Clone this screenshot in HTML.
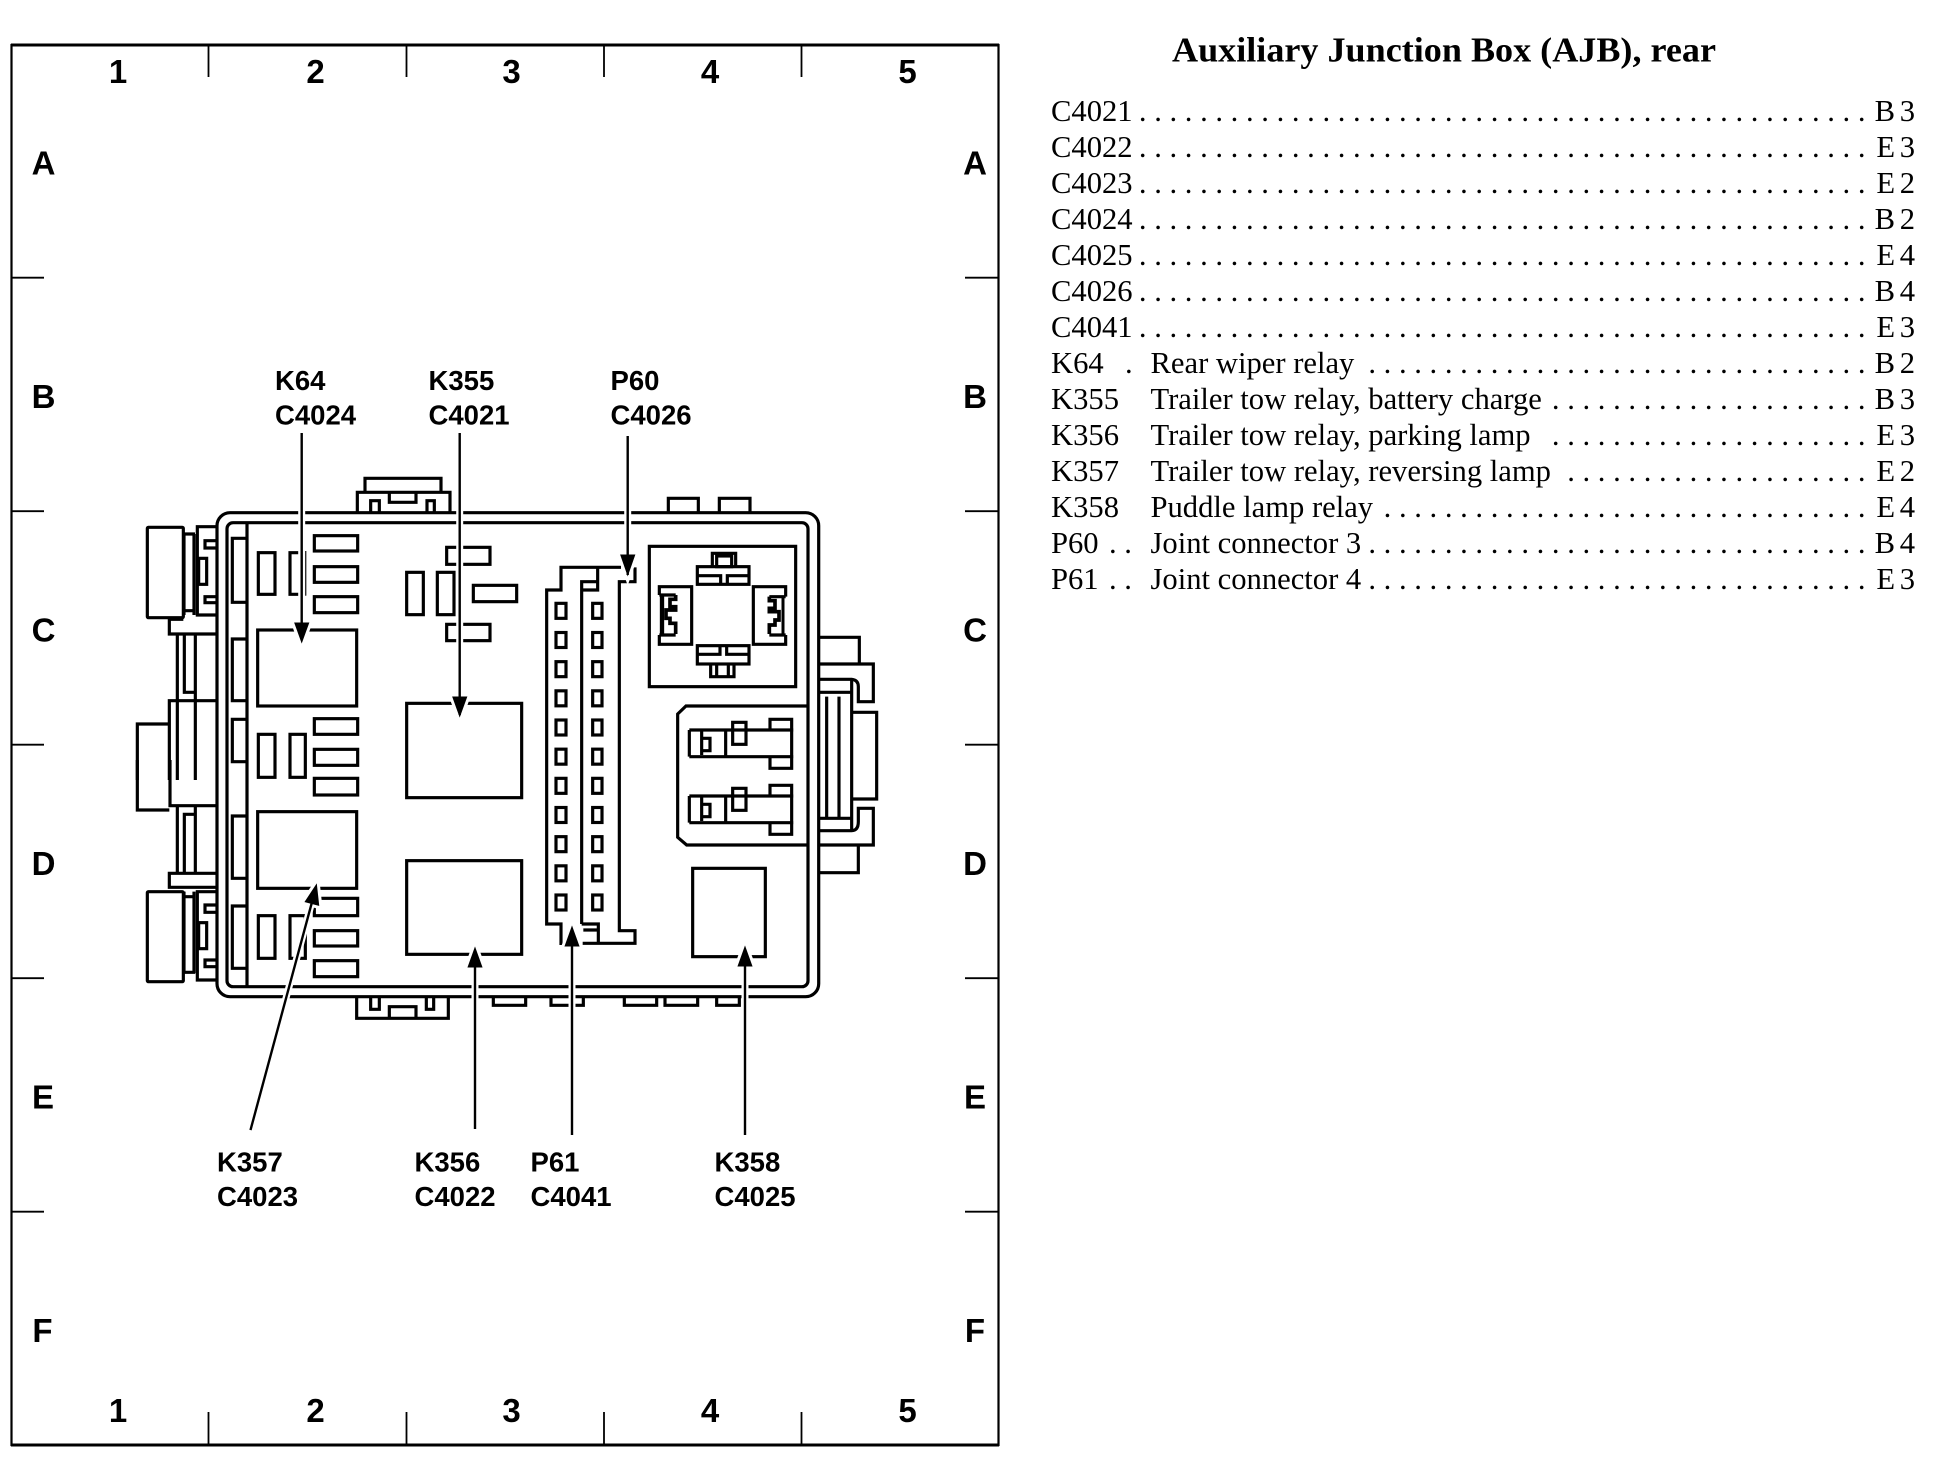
<!DOCTYPE html>
<html>
<head>
<meta charset="utf-8">
<title>Auxiliary Junction Box (AJB), rear</title>
<style>
html,body{margin:0;padding:0;background:#fff;}
svg{display:block;}
.g{font-family:"Liberation Sans",sans-serif;font-weight:bold;font-size:33px;fill:#000;text-anchor:middle;}
.c{font-family:"Liberation Sans",sans-serif;font-weight:bold;font-size:27.5px;fill:#000;}
.t{font-family:"Liberation Serif",serif;font-weight:bold;font-size:35px;fill:#000;}
.l{font-family:"Liberation Serif",serif;font-size:30.6px;fill:#000;white-space:pre;}
.r{text-anchor:end;}
.v{text-anchor:end;word-spacing:-3px;}
</style>
</head>
<body>
<svg width="1952" height="1472" viewBox="0 0 1952 1472" xmlns="http://www.w3.org/2000/svg">
<rect width="1952" height="1472" fill="#fff"/>

<!-- frame -->
<g fill="none" stroke="#000" stroke-width="2.2">
<rect x="11.5" y="45" width="987" height="1400"/>
</g>
<g fill="none" stroke="#000" stroke-width="3">
<path d="M11 45H999M11 1445H999"/>
</g>
<g fill="none" stroke="#000" stroke-width="1.8">
<path d="M208.5 45V77M406.5 45V77M604 45V77M801.5 45V77"/>
<path d="M208.5 1412V1445M406.5 1412V1445M604 1412V1445M801.5 1412V1445"/>
<path d="M11 277.7H44M11 511.2H44M11 744.7H44M11 978.2H44M11 1211.7H44"/>
<path d="M965 277.7H998M965 511.2H998M965 744.7H998M965 978.2H998M965 1211.7H998"/>
</g>
<g class="g">
<text x="118" y="83">1</text><text x="315.5" y="83">2</text><text x="511.5" y="83">3</text><text x="710" y="83">4</text><text x="907.5" y="83">5</text>
<text x="118" y="1422">1</text><text x="315.5" y="1422">2</text><text x="511.5" y="1422">3</text><text x="710" y="1422">4</text><text x="907.5" y="1422">5</text>
<text x="43.5" y="174.3">A</text><text x="43.5" y="407.8">B</text><text x="43.5" y="641.3">C</text><text x="43.5" y="874.8">D</text><text x="43" y="1108.3">E</text><text x="42.5" y="1341.8">F</text>
<text x="975" y="174.3">A</text><text x="975" y="407.8">B</text><text x="975" y="641.3">C</text><text x="975" y="874.8">D</text><text x="975" y="1108.3">E</text><text x="975" y="1341.8">F</text>
</g>

<!-- housing -->
<g fill="none" stroke="#000" stroke-width="3.2">
<rect x="217" y="512.7" width="601.7" height="484" rx="13"/>
<rect x="227" y="522.7" width="581" height="464" rx="6"/>
<path d="M247 522V986"/>
</g>

<!-- upper-left (zoom coords) -->
<g transform="translate(120 460) scale(.33333)" fill="none" stroke="#000" stroke-width="9.5">
<path d="M735 95V55H963V95M712 155V97H990V155M808 97V127H888V97M752 155V122H778V155M921 155V122H943V155"/>
<rect x="82" y="202" width="108" height="271" rx="3"/>
<path d="M190 222H225M192 222V465M222 222V465M288 200H232V465H288M288 242H255V264H288M288 410H255V428H288"/>
<rect x="236" y="295" width="24" height="78"/>
<path d="M192 452H225M190 478H148V522H288M172 525V960M226 525V960M193 525V697H225M288 722H148V960M148 792H52V960"/>
<path d="M381 235H337V427H381M381 537H337V722H381M381 778H337V905H381"/>
<rect x="583" y="227" width="130" height="46"/><rect x="583" y="320" width="130" height="47"/><rect x="583" y="410" width="130" height="48"/>
<rect x="415" y="278" width="50" height="125"/>
<path d="M556 278H510V403H556"/>
<path d="M557 273V407" stroke-width="4"/>
<rect x="413" y="510" width="297" height="228"/>
<rect x="583" y="776" width="130" height="47"/><rect x="583" y="868" width="130" height="48"/>
<rect x="415" y="823" width="50" height="129"/><rect x="510" y="823" width="46" height="129"/>
<rect x="980" y="262" width="130" height="51"/><rect x="860" y="337" width="50" height="127"/><rect x="952" y="337" width="50" height="127"/><rect x="1060" y="376" width="130" height="49"/><rect x="980" y="493" width="130" height="49"/>
<rect x="860" y="730" width="345" height="283"/>
</g>

<!-- lower-left (zoom coords) -->
<g transform="translate(120 760) scale(.33333)" fill="none" stroke="#000" stroke-width="9.5">
<rect x="583" y="55" width="130" height="50"/>
<rect x="413" y="155" width="297" height="230"/>
<rect x="583" y="415" width="130" height="52"/><rect x="583" y="512" width="130" height="46"/><rect x="583" y="602" width="130" height="48"/>
<rect x="415" y="467" width="50" height="128"/><rect x="510" y="467" width="46" height="128"/>
<path d="M52 0V150H148M150 0V137H288M172 137V337M226 137V337M193 337V163H226M288 340H148V382H288"/>
<rect x="82" y="395" width="108" height="270" rx="3"/>
<path d="M288 395H232V660H288M192 395V640M222 395V640M192 410H222M190 637H225M288 435H255V457H288M288 600H255V620H288"/>
<rect x="236" y="488" width="24" height="78"/>
<path d="M381 168H337V355H381M381 438H337V625H381"/>
<path d="M710 712V775H985V712M752 712V748H778V712M919 712V748H941V712M808 772V740H888V772M1120 712V736H1217V712"/>
<rect x="860" y="302" width="345" height="281"/>
</g>

<!-- right part (zoom coords) -->
<g transform="translate(530 480) scale(.33333)" fill="none" stroke="#000" stroke-width="9.5">
<path d="M415 98V55H505V98M568 98V55H660V98"/>
<rect x="358" y="199" width="439" height="421"/>
<path d="M547 258V220H617V258"/><rect x="560" y="228" width="45" height="32"/>
<rect x="502" y="260" width="155" height="53"/>
<path d="M505 287H572V313M592 313V287H655"/>
<rect x="502" y="497" width="155" height="55"/>
<path d="M505 523H570V497M590 497V523H655M542 552V590H612V552M560 552V590M595 552V590"/>
<path d="M388 345V320H485V493H388V465"/>
<path d="M396 345V465" stroke-width="13"/>
<path d="M388 345H437M388 465H437"/>
<path d="M437 345V358H420V380H437V390H408V415H420V430H437V462" stroke-width="11"/>
<g transform="translate(1155 0) scale(-1 1)">
<path d="M388 350V320H485V493H388V465"/>
<path d="M396 350V465" stroke-width="9"/>
<path d="M388 350H437M388 465H437"/>
<path d="M437 350V362H420V385H437V395H408V420H420V435H437V462" stroke-width="11"/>
</g>
<path d="M870 472H988V552M870 552H1030V665H985V620Q985 600 965 598H870M870 637H965M965 600V900M890 650V900M927 650V900M965 697H1040V900"/>
<path d="M833 678H468L443 702V900"/>
<g>
<path d="M478 750H790M478 830H790M478 750V830M515 755V825M515 775H540V812H515M587 755V830M720 750V718H785V865H720V830"/>
<rect x="608" y="727" width="40" height="66"/>
</g>
<g transform="translate(0 198)">
<path d="M478 750H790M478 830H790M478 750V830M515 755V825M515 775H540V812H515M587 755V830M720 750V718H785V865H720V830"/>
<rect x="608" y="727" width="40" height="66"/>
</g>
<path d="M273 262H93V330H50V1332H93V1395M203 262V330H158M155 1332V305H203M155 1332H205V1392M160 1350H205M158 1390H315V1352H268V305H315V262"/>
<path d="M890 900V1015M927 900V1015M870 1015H965M965 900V1052M870 1052H965Q985 1052 985 1025V985H1030V1095H870M985 1095V1178H870M965 957H1040V900"/>
<path d="M443 900V1072L470 1095H833"/>
<rect x="488" y="1165" width="218" height="265"/>
<g>
<rect x="78" y="370" width="30" height="45"/><rect x="188" y="370" width="28" height="45"/>
<rect x="78" y="457.5" width="30" height="45"/><rect x="188" y="457.5" width="28" height="45"/>
<rect x="78" y="545" width="30" height="45"/><rect x="188" y="545" width="28" height="45"/>
<rect x="78" y="632.5" width="30" height="45"/><rect x="188" y="632.5" width="28" height="45"/>
<rect x="78" y="720" width="30" height="45"/><rect x="188" y="720" width="28" height="45"/>
<rect x="78" y="807.5" width="30" height="45"/><rect x="188" y="807.5" width="28" height="45"/>
<rect x="78" y="895" width="30" height="45"/><rect x="188" y="895" width="28" height="45"/>
<rect x="78" y="982.5" width="30" height="45"/><rect x="188" y="982.5" width="28" height="45"/>
<rect x="78" y="1070" width="30" height="45"/><rect x="188" y="1070" width="28" height="45"/>
<rect x="78" y="1157.5" width="30" height="45"/><rect x="188" y="1157.5" width="28" height="45"/>
<rect x="78" y="1245" width="30" height="45"/><rect x="188" y="1245" width="28" height="45"/>
</g>
</g>
<!-- bottom bumps -->
<g transform="translate(530 760) scale(.33333)" fill="none" stroke="#000" stroke-width="9.5">
<path d="M63 712V736H160V712M283 712V736H380V712M405 712V736H503V712M560 712V736H628V712"/>
</g>

<!-- arrows -->
<g fill="none" stroke="#fff" stroke-width="7">
<path d="M301.7 433V640M459.7 433V715M627.7 436V575"/>
<path d="M250.5 1130L314 894"/>
<path d="M475 950V1129M572 930V1135M745 950V1135"/>
</g>
<g fill="#000" stroke="#fff" stroke-width="3">
<polygon points="292,621 311.5,621 301.7,648"/>
<polygon points="450,695 469.5,695 459.7,722"/>
<polygon points="618,553 637.5,553 627.7,581"/>
<polygon points="317.8,879 321,908 302,903"/>
<polygon points="475,942 484.7,969 465.3,969"/>
<polygon points="572,921 581.7,948 562.3,948"/>
<polygon points="745,941 754.7,968 735.3,968"/>
</g>
<g fill="none" stroke="#000" stroke-width="2.4">
<path d="M301.7 433V640M459.7 433V715M627.7 436V575"/>
<path d="M250.5 1130L312 902"/>
<path d="M475 960V1129M572 940V1135M745 960V1135"/>
</g>

<!-- callouts -->
<g class="c">
<text x="275" y="390">K64</text><text x="275" y="424.5">C4024</text>
<text x="428.5" y="390">K355</text><text x="428.5" y="424.5">C4021</text>
<text x="610.5" y="390">P60</text><text x="610.5" y="424.5">C4026</text>
<text x="217" y="1171.7">K357</text><text x="217" y="1206">C4023</text>
<text x="414.5" y="1171.7">K356</text><text x="414.5" y="1206">C4022</text>
<text x="530.5" y="1171.7">P61</text><text x="530.5" y="1206">C4041</text>
<text x="714.5" y="1171.7">K358</text><text x="714.5" y="1206">C4025</text>
</g>

<!-- right panel -->
<text class="t" x="1172" y="61.7" textLength="544" lengthAdjust="spacingAndGlyphs">Auxiliary Junction Box (AJB), rear</text>
<g class="l">
<text x="1051" y="121">C4021</text><text class="r" x="1865.5" y="121">. . . . . . . . . . . . . . . . . . . . . . . . . . . . . . . . . . . . . . . . . . . . . . . .</text><text class="v" x="1915" y="121">B 3</text>
<text x="1051" y="157">C4022</text><text class="r" x="1865.5" y="157">. . . . . . . . . . . . . . . . . . . . . . . . . . . . . . . . . . . . . . . . . . . . . . . .</text><text class="v" x="1915" y="157">E 3</text>
<text x="1051" y="193">C4023</text><text class="r" x="1865.5" y="193">. . . . . . . . . . . . . . . . . . . . . . . . . . . . . . . . . . . . . . . . . . . . . . . .</text><text class="v" x="1915" y="193">E 2</text>
<text x="1051" y="229">C4024</text><text class="r" x="1865.5" y="229">. . . . . . . . . . . . . . . . . . . . . . . . . . . . . . . . . . . . . . . . . . . . . . . .</text><text class="v" x="1915" y="229">B 2</text>
<text x="1051" y="265">C4025</text><text class="r" x="1865.5" y="265">. . . . . . . . . . . . . . . . . . . . . . . . . . . . . . . . . . . . . . . . . . . . . . . .</text><text class="v" x="1915" y="265">E 4</text>
<text x="1051" y="301">C4026</text><text class="r" x="1865.5" y="301">. . . . . . . . . . . . . . . . . . . . . . . . . . . . . . . . . . . . . . . . . . . . . . . .</text><text class="v" x="1915" y="301">B 4</text>
<text x="1051" y="337">C4041</text><text class="r" x="1865.5" y="337">. . . . . . . . . . . . . . . . . . . . . . . . . . . . . . . . . . . . . . . . . . . . . . . .</text><text class="v" x="1915" y="337">E 3</text>
<text x="1051" y="373">K64</text><text x="1125" y="373">.</text><text x="1150.5" y="373">Rear wiper relay</text><text class="r" x="1865.5" y="373">. . . . . . . . . . . . . . . . . . . . . . . . . . . . . . . . .</text><text class="v" x="1915" y="373">B 2</text>
<text x="1051" y="409">K355</text><text x="1150.5" y="409">Trailer tow relay, battery charge</text><text class="r" x="1865.5" y="409">. . . . . . . . . . . . . . . . . . . . .</text><text class="v" x="1915" y="409">B 3</text>
<text x="1051" y="445">K356</text><text x="1150.5" y="445">Trailer tow relay, parking lamp</text><text class="r" x="1865.5" y="445">. . . . . . . . . . . . . . . . . . . . .</text><text class="v" x="1915" y="445">E 3</text>
<text x="1051" y="481">K357</text><text x="1150.5" y="481">Trailer tow relay, reversing lamp</text><text class="r" x="1865.5" y="481">. . . . . . . . . . . . . . . . . . . .</text><text class="v" x="1915" y="481">E 2</text>
<text x="1051" y="517">K358</text><text x="1150.5" y="517">Puddle lamp relay</text><text class="r" x="1865.5" y="517">. . . . . . . . . . . . . . . . . . . . . . . . . . . . . . . .</text><text class="v" x="1915" y="517">E 4</text>
<text x="1051" y="553">P60</text><text x="1109" y="553">. .</text><text x="1150.5" y="553">Joint connector 3</text><text class="r" x="1865.5" y="553">. . . . . . . . . . . . . . . . . . . . . . . . . . . . . . . . .</text><text class="v" x="1915" y="553">B 4</text>
<text x="1051" y="589">P61</text><text x="1109" y="589">. .</text><text x="1150.5" y="589">Joint connector 4</text><text class="r" x="1865.5" y="589">. . . . . . . . . . . . . . . . . . . . . . . . . . . . . . . . .</text><text class="v" x="1915" y="589">E 3</text>
</g>
</svg>
</body>
</html>
